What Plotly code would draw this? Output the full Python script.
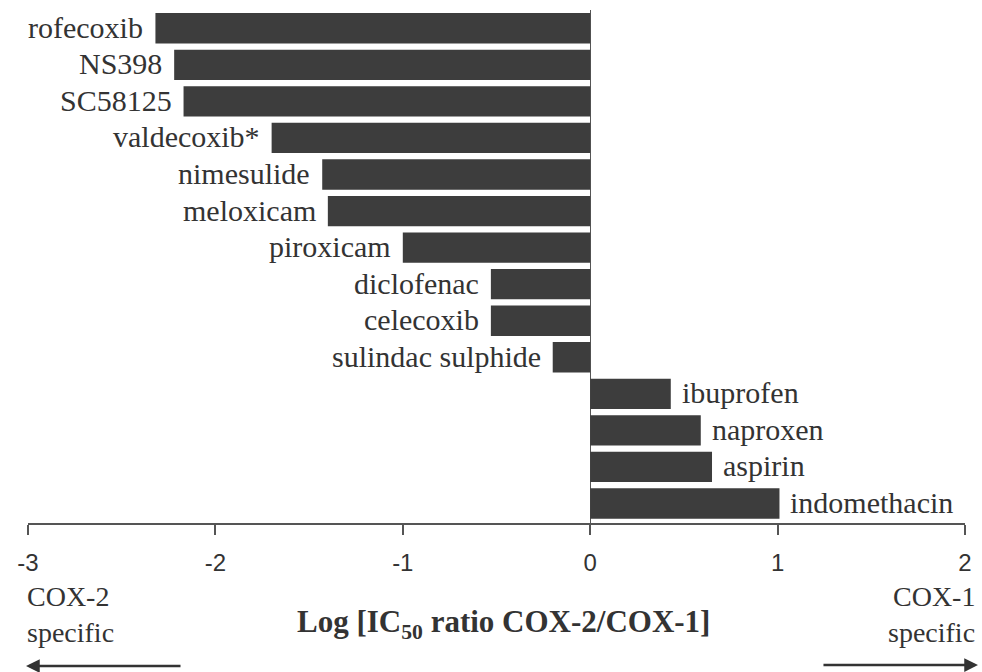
import plotly.graph_objects as go

# drug names, top to bottom
drugs = ["rofecoxib", "NS398", "SC58125", "valdecoxib*", "nimesulide", "meloxicam",
         "piroxicam", "diclofenac", "celecoxib", "sulindac sulphide",
         "ibuprofen", "naproxen", "aspirin", "indomethacin"]
# log of IC50 ratio COX-2/COX-1
log_ratio = [-2.32, -2.22, -2.17, -1.70, -1.43, -1.40,
             -1.00, -0.53, -0.53, -0.20,
             0.43, 0.59, 0.65, 1.01]
x_ticks = [-3, -2, -1, 0, 1, 2]

bar_col = "#3d3d3d"
txt_col = "#333333"
serif = "Liberation Serif, Times New Roman, serif"
sans = "Liberation Sans, Arial, sans-serif"

# plot area in pixels (used to place the loose texts below the axis)
L, R, T, B = 28, 967, 10, 523
W, H = 982, 672
def px(x):
    return (x - L) / (R - L)
def py(y):
    return (B - y) / (B - T)

fig = go.Figure()
fig.add_trace(go.Bar(x=log_ratio, y=drugs, orientation="h",
                     marker=dict(color=bar_col, line=dict(width=0)),
                     hoverinfo="x+y"))

# bar labels, just past the free end of each bar
for d, v in zip(drugs, log_ratio):
    fig.add_annotation(x=v, y=d, xref="x", yref="y", text=d, showarrow=False,
                       xanchor="right" if v < 0 else "left",
                       xshift=-10 if v < 0 else 9, yshift=1,
                       font=dict(family=serif, size=30, color=txt_col))

# texts under the axis
lab = dict(family=serif, size=28, color=txt_col)
fig.add_annotation(x=px(26), y=py(596), xref="paper", yref="paper", text="COX-2",
                   showarrow=False, xanchor="left", yanchor="middle", font=lab, borderpad=0)
fig.add_annotation(x=px(26), y=py(632), xref="paper", yref="paper", text="specific",
                   showarrow=False, xanchor="left", yanchor="middle", font=lab, borderpad=0)
fig.add_annotation(x=px(978), y=py(596), xref="paper", yref="paper", text="COX-1",
                   showarrow=False, xanchor="right", yanchor="middle", font=lab, borderpad=0)
fig.add_annotation(x=px(978), y=py(632), xref="paper", yref="paper", text="specific",
                   showarrow=False, xanchor="right", yanchor="middle", font=lab, borderpad=0)
fig.add_annotation(x=px(505), y=py(624), xref="paper", yref="paper",
                   text="<b>Log [IC<sub>50</sub> ratio COX-2/COX-1]</b>",
                   showarrow=False, xanchor="center", yanchor="middle",
                   font=dict(family=serif, size=31, color=txt_col))

# arrows
fig.add_annotation(x=px(26), y=py(666), xref="paper", yref="paper", text="",
                   showarrow=True, ax=156, ay=0, arrowhead=2, arrowsize=1.1,
                   arrowwidth=2.5, arrowcolor=txt_col)
fig.add_annotation(x=px(980), y=py(665), xref="paper", yref="paper", text="",
                   showarrow=True, ax=-156, ay=0, arrowhead=2, arrowsize=1.1,
                   arrowwidth=2.5, arrowcolor=txt_col)

fig.update_layout(
    width=W, height=H,
    margin=dict(l=L, r=W - R, t=T, b=H - B),
    paper_bgcolor="white", plot_bgcolor="white",
    showlegend=False, bargap=0.17,
    xaxis=dict(range=[-3, 2], tickvals=x_ticks, ticktext=[str(t) for t in x_ticks],
               showgrid=False, zeroline=True, zerolinecolor="#555555", zerolinewidth=1,
               showline=True, linecolor="#555555", linewidth=2,
               ticks="outside", ticklen=10, tickwidth=2, tickcolor="#555555",
               ticklabelstandoff=7,
               tickfont=dict(family=sans, size=24, color=txt_col)),
    yaxis=dict(autorange="reversed", showticklabels=False, showgrid=False,
               zeroline=False, showline=False, ticks=""),
)

# page margin off so the 982x672 figure fills the window exactly
fig.write_html("out.html", config={"displayModeBar": False},
               post_script="document.body.style.margin='0';document.body.style.overflow='hidden';")
